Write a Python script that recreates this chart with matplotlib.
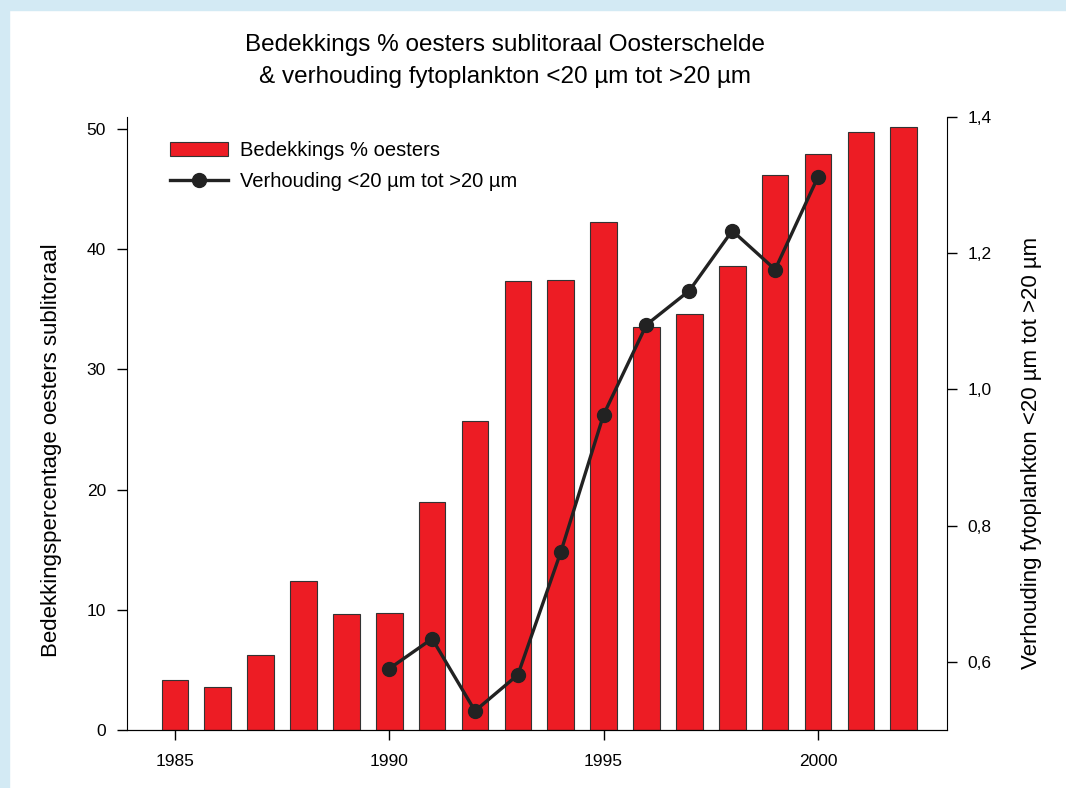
import numpy as np
import matplotlib.pyplot as plt
from matplotlib.patches import Rectangle

plt.rcParams['font.family'] = ['Liberation Sans', 'DejaVu Sans']

# Gegevens
jaren = [1985, 1986, 1987, 1988, 1989, 1990, 1991, 1992, 1993,
         1994, 1995, 1996, 1997, 1998, 1999, 2000, 2001, 2002]
bedekking = [4.2, 3.6, 6.2, 12.4, 9.65, 9.7, 19.0, 25.7, 37.35,
             37.4, 42.3, 33.5, 34.6, 38.6, 46.2, 47.9, 49.75, 50.2]

jaren_lijn = [1990, 1991, 1992, 1993, 1994, 1995, 1996, 1997, 1998, 1999, 2000]
verhouding = [0.590, 0.634, 0.528, 0.581, 0.761, 0.963, 1.095, 1.145, 1.233, 1.176, 1.312]

rood = '#ed1c24'
blauw = '#d3eaf4'

fig = plt.figure(figsize=(10.66, 7.88), dpi=100)

# lichtblauwe rand
fig.patches.append(Rectangle((0, 0.987), 1, 0.013, transform=fig.transFigure,
                             color=blauw, zorder=0))
fig.patches.append(Rectangle((0, 0), 0.008, 1, transform=fig.transFigure,
                             color=blauw, zorder=0))

ax = fig.add_axes([0.119, 0.0736, 0.769, 0.778])
ax.bar(jaren, bedekking, width=0.62, color=rood, edgecolor='#333333',
       linewidth=0.8, label='Bedekkings % oesters', zorder=2)
ax.set_xlim(1983.88, 2003.0)
ax.set_ylim(0, 51)
ax.set_yticks([0, 10, 20, 30, 40, 50])
ax.set_xticks([1985, 1990, 1995, 2000])
ax.spines['top'].set_visible(False)
ax.spines['right'].set_visible(False)
ax.tick_params(axis='both', direction='out', length=7, width=1, labelsize=12.5)
ax.tick_params(axis='x', pad=10)
ax.tick_params(axis='y', pad=8)
ax.set_ylabel('Bedekkingspercentage oesters sublitoraal', fontsize=16)
ax.yaxis.set_label_coords(-0.079, 0.457)

ax2 = ax.twinx()
ax2.plot(jaren_lijn, verhouding, color='#222222', linewidth=2.4, marker='o',
         markersize=10, label='Verhouding <20 µm tot >20 µm', zorder=3)
ax2.set_ylim(0.5, 1.4)
ax2.set_yticks([0.6, 0.8, 1.0, 1.2, 1.4])
ax2.set_yticklabels(['0,6', '0,8', '1,0', '1,2', '1,4'])
ax2.spines['top'].set_visible(False)
ax2.spines['left'].set_visible(False)
ax2.tick_params(axis='y', direction='out', length=7, width=1, labelsize=12.5, pad=8)
ax2.set_ylabel('Verhouding fytoplankton <20 µm tot >20 µm', fontsize=16)
ax2.yaxis.set_label_coords(1.091, 0.452)

h1, l1 = ax.get_legend_handles_labels()
h2, l2 = ax2.get_legend_handles_labels()
ax2.legend(h1 + h2, l1 + l2, loc='upper left', bbox_to_anchor=(0.03, 0.99),
           frameon=False, fontsize=14.5, handlelength=2.9, handletextpad=0.6,
           labelspacing=0.6)

fig.text(0.474, 0.943, 'Bedekkings % oesters sublitoraal Oosterschelde',
         ha='center', va='center', fontsize=17.5)
fig.text(0.474, 0.902, '& verhouding fytoplankton <20 µm tot >20 µm',
         ha='center', va='center', fontsize=17.5)

fig.savefig('out.png', dpi=100)
